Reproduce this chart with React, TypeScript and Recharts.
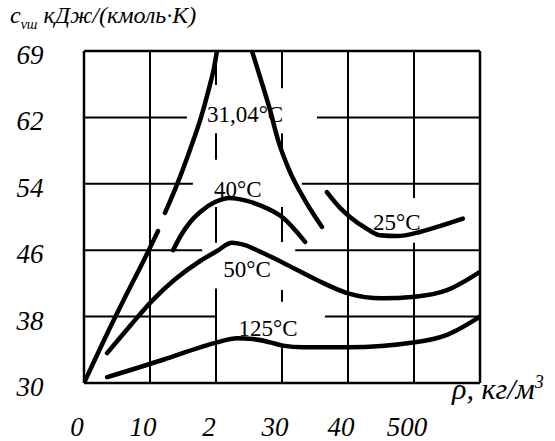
import React from "react";
import { LineChart, Line, XAxis, YAxis, ReferenceLine, ReferenceDot } from "recharts";

// density axis (kg/m3) and printed tick labels
const X_TICKS = [0, 100, 200, 300, 400, 500];
const X_LABELS = ["0", "10", "2", "30", "40", "500"];
// heat capacity axis, top line printed as 69
const Y_TICKS = [30, 38, 46, 54, 62, 70];
const Y_LABELS = ["30", "38", "46", "54", "62", "69"];

// 31.04 °C isotherm: left branch in two pieces, right branch
const T31A_RHO = [0, 31.8, 65.2, 97, 112.1];
const T31A_CV = [30, 35.4, 40.8, 45.8, 48.3];
const T31B_RHO = [122.7, 142.4, 160.6, 177.3, 189.4, 197, 201.5];
const T31B_CV = [50.5, 54.2, 58.1, 62.0, 65.5, 68.0, 70];
const T31R_RHO = [254.5, 268.2, 281.8, 293.9, 310.6, 334.8, 360.6];
const T31R_CV = [70, 66.5, 62.9, 59.3, 55.7, 52.0, 48.8];

const T40_RHO = [135, 147, 161, 176, 198.5, 221, 244, 267, 301.5, 335];
const T40_CV = [46.0, 47.8, 49.4, 50.6, 51.8, 52.3, 52.0, 51.4, 49.9, 47.0];

const T25_RHO = [368, 388, 403, 426, 448, 474, 509, 539, 574];
const T25_CV = [53.0, 51.1, 50.0, 48.7, 47.8, 47.7, 48.2, 48.9, 49.8];

const T50_RHO = [35, 70, 103, 138, 176, 201.5, 224, 244, 262, 301.5, 353, 400, 451.5, 501.5, 550, 600];
const T50_CV = [33.6, 36.9, 39.9, 42.5, 44.7, 45.9, 46.9, 46.6, 46.0, 44.5, 42.4, 40.8, 40.2, 40.4, 41.2, 43.4];

const T125_RHO = [35, 120, 176, 201.5, 232, 256, 282, 301.5, 332, 400, 501.5, 550, 600];
const T125_CV = [30.7, 32.8, 34.3, 34.9, 35.4, 35.3, 34.9, 34.5, 34.3, 34.3, 34.9, 35.8, 38.0];

// isotherm captions
const CAPTIONS = ["31,04°C", "40°C", "25°C", "50°C", "125°C"];
const CAPTION_RHO = [244, 233, 474, 247, 279];
const CAPTION_CV = [62.4, 53.4, 49.4, 43.7, 36.6];

// broken grid lines: [from, to] pieces
const H_GRID: [number, [number, number][]][] = [
  [62, [[0, 156], [353, 600]]],
  [54, [[0, 165], [330, 600]]],
  [46, [[0, 179], [320, 600]]],
  [38, [[0, 201.5], [365, 600]]],
];
const V_GRID: [number, [number, number][]][] = [
  [100, [[30, 70]]],
  [200, [[65.9, 70], [56.9, 60.1], [46.9, 51.2], [30, 41.4]]],
  [300, [[65.5, 70], [57.5, 60.1], [47.0, 51.2], [39.8, 41.2], [30, 34.3]]],
  [400, [[30, 70]]],
  [500, [[52.3, 70], [30, 46.9]]],
];

const zip = (xs: number[], ys: number[]) => xs.map((x, i) => ({ x, y: ys[i] }));

const SERIES = [
  zip(T31A_RHO, T31A_CV),
  zip(T31B_RHO, T31B_CV),
  zip(T31R_RHO, T31R_CV),
  zip(T40_RHO, T40_CV),
  zip(T25_RHO, T25_CV),
  zip(T50_RHO, T50_CV),
  zip(T125_RHO, T125_CV),
];

const SERIF = "'Liberation Serif', 'Times New Roman', serif";

const XTick = ({ x, y, index }: any) => (
  <text x={x - 7} y={y + 44} textAnchor="middle" dominantBaseline="central"
    fontFamily={SERIF} fontStyle="italic" fontSize={27} fill="#000">
    {X_LABELS[index]}
  </text>
);

const YTick = ({ y, index }: any) => (
  <text x={30} y={y + 4} textAnchor="middle" dominantBaseline="central"
    fontFamily={SERIF} fontStyle="italic" fontSize={27} fill="#000">
    {Y_LABELS[index]}
  </text>
);

export default function App() {
  return (
    <div style={{ position: "absolute", left: 0, top: 0, width: 555, height: 441, background: "#fff" }}>
      <LineChart width={555} height={441} margin={{ top: 51, right: 75, left: 0, bottom: 0 }}>
        <XAxis dataKey="x" type="number" domain={[0, 600]} ticks={X_TICKS} tick={<XTick />}
          axisLine={false} tickLine={false} tickSize={0} tickMargin={0} height={58} allowDataOverflow />
        <YAxis type="number" domain={[30, 70]} ticks={Y_TICKS} tick={<YTick />}
          axisLine={false} tickLine={false} tickSize={0} tickMargin={0} width={84} allowDataOverflow />

        {H_GRID.flatMap(([y, parts]) =>
          parts.map(([a, b], i) => (
            <ReferenceLine key={`h${y}-${i}`} segment={[{ x: a, y }, { x: b, y }]} stroke="#000" strokeWidth={2} />
          ))
        )}
        {V_GRID.flatMap(([x, parts]) =>
          parts.map(([a, b], i) => (
            <ReferenceLine key={`v${x}-${i}`} segment={[{ x, y: a }, { x, y: b }]} stroke="#000" strokeWidth={2} />
          ))
        )}
        {/* frame */}
        <ReferenceLine y={30} stroke="#000" strokeWidth={2.5} />
        <ReferenceLine y={70} stroke="#000" strokeWidth={2.5} />
        <ReferenceLine x={0} stroke="#000" strokeWidth={2.5} />
        <ReferenceLine x={600} stroke="#000" strokeWidth={2.5} />

        {SERIES.map((data, i) => (
          <Line key={i} data={data} dataKey="y" type="monotone" stroke="#000" strokeWidth={4.5}
            strokeLinecap="round" dot={false} activeDot={false} isAnimationActive={false} />
        ))}

        {CAPTIONS.map((c, i) => (
          <ReferenceDot key={c} x={CAPTION_RHO[i]} y={CAPTION_CV[i]} r={0} stroke="none"
            label={{ value: c, position: "center", fontSize: 23, fill: "#000", fontFamily: SERIF }} />
        ))}
      </LineChart>

      <div style={{ position: "absolute", left: 10, top: 2, fontFamily: SERIF, fontStyle: "italic", fontSize: 24, whiteSpace: "nowrap" }}>
        c<sub style={{ fontSize: 14 }}>vш</sub> кДж/(кмоль·К)
      </div>
      <div style={{ position: "absolute", left: 452, top: 372, fontFamily: SERIF, fontStyle: "italic", fontSize: 30, whiteSpace: "nowrap" }}>
        ρ, кг/м<sup style={{ fontSize: 18 }}>3</sup>
      </div>
    </div>
  );
}
